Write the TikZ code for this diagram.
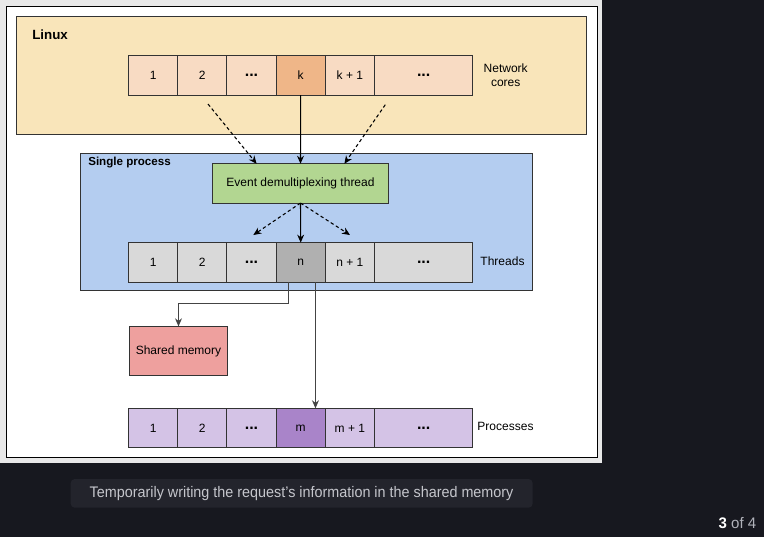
\documentclass[tikz,border=0pt]{standalone}
\usepackage{fontspec}
\setmainfont{Liberation Sans}
\usetikzlibrary{positioning,arrows.meta,calc}

\definecolor{pagebg}{HTML}{17181F}
\definecolor{framegray}{HTML}{E8E8E8}
\definecolor{captionbg}{HTML}{23242C}
\definecolor{captiontext}{HTML}{C5C6CC}
\definecolor{countertext}{HTML}{B0B2BA}
\definecolor{cellline}{HTML}{333333}
\definecolor{linuxbg}{HTML}{F9E5BA}
\definecolor{netcell}{HTML}{F8DBC3}
\definecolor{netsel}{HTML}{EFB688}
\definecolor{processbg}{HTML}{B4CDF0}
\definecolor{eventbg}{HTML}{B2D691}
\definecolor{thrcell}{HTML}{D9D9D9}
\definecolor{thrsel}{HTML}{B0B0B0}
\definecolor{sharedbg}{HTML}{EEA09E}
\definecolor{proccell}{HTML}{D4C3E6}
\definecolor{procsel}{HTML}{A984C9}
\definecolor{elbowline}{HTML}{444444}

\begin{document}
\begin{tikzpicture}[x=0.75pt,y=-0.75pt,font=\fontsize{9}{11}\selectfont,
    cell/.style={draw=cellline,line width=0.75pt,minimum width=36.9pt,minimum height=29.55pt,inner sep=0pt,outer sep=0pt},
    widecell/.style={cell,minimum width=73.8pt},
    box/.style={draw=cellline,line width=0.75pt},
    link/.style={line width=0.8pt,-{Stealth[length=6pt,width=5.2pt]}},
    hint/.style={link,dash pattern=on 2.5pt off 2pt},
    dots/.style={font=\fontsize{12}{12}\selectfont\bfseries}]

    \fill[pagebg] (0,0) rectangle (764,537);
    \useasboundingbox (0,0) rectangle (764,537);

    % frame of the slide
    \fill[framegray] (0,0) rectangle (602,463);
    \draw[fill=white,line width=0.75pt] (6,6) rectangle (597,457);

    % Linux
    \draw[box,fill=linuxbg] (16,16) rectangle (586.7,134.3);
    \node[anchor=west,inner sep=0pt,font=\fontsize{10}{12}\selectfont\bfseries] (linuxlabel) at (32,35) {Linux};

    \node[cell,fill=netcell] (net1) at (153.1,75.3) {1};
    \node[cell,fill=netcell,right=0pt of net1] (net2) {2};
    \node[cell,fill=netcell,right=0pt of net2,dots] (netdots) {...};
    \node[cell,fill=netsel,right=0pt of netdots] (netk) {k};
    \node[cell,fill=netcell,right=0pt of netk] (netk1) {k + 1};
    \node[widecell,fill=netcell,right=0pt of netk1,dots] (netmore) {...};
    \node[align=center,font=\fontsize{9}{11}\selectfont] (netlabel) at (505.7,75.3) {Network\\cores};

    % Single process
    \draw[box,fill=processbg] (80,153.3) rectangle (532.5,290.8);
    \node[anchor=west,inner sep=0pt,font=\fontsize{8.7}{10}\selectfont\bfseries] (proclabelbox) at (88,162.5) {Single process};

    \node[box,fill=eventbg,minimum width=131.7pt,minimum height=29.5pt,inner sep=0pt,outer sep=0pt] (event) at (300.5,183.4) {Event demultiplexing thread};

    \node[cell,fill=thrcell] (thr1) at (153.1,262.3) {1};
    \node[cell,fill=thrcell,right=0pt of thr1] (thr2) {2};
    \node[cell,fill=thrcell,right=0pt of thr2,dots] (thrdots) {...};
    \node[cell,fill=thrsel,right=0pt of thrdots] (thrn) {n};
    \node[cell,fill=thrcell,right=0pt of thrn] (thrn1) {n + 1};
    \node[widecell,fill=thrcell,right=0pt of thrn1,dots] (thrmore) {...};
    \node (thrlabel) at (502.5,261.7) {Threads};

    % Shared memory
    \node[box,fill=sharedbg,minimum width=73.8pt,minimum height=37pt,inner sep=0pt,outer sep=0pt] (shared) at (178.5,351) {Shared memory};

    % Processes
    \node[cell,fill=proccell] (proc1) at (153.1,428) {1};
    \node[cell,fill=proccell,right=0pt of proc1] (proc2) {2};
    \node[cell,fill=proccell,right=0pt of proc2,dots] (procdots) {...};
    \node[cell,fill=procsel,right=0pt of procdots] (procm) {m};
    \node[cell,fill=proccell,right=0pt of procm] (procm1) {m + 1};
    \node[widecell,fill=proccell,right=0pt of procm1,dots] (procmore) {...};
    \node (proclabel) at (505.5,426.7) {Processes};

    % connectors
    \coordinate (netfromleft) at (208,104);
    \coordinate (netfromright) at (385.3,104.7);
    \coordinate (thrtoleft) at (253.3,235);
    \coordinate (thrtoright) at (350,235);

    \draw[hint] (netfromleft) -- ($(event.north west)!0.25!(event.north east)$);
    \draw[hint] (netfromright) -- ($(event.north west)!0.75!(event.north east)$);
    \draw[link] (netk.south) -- (event.north);

    \draw[hint] (event.south) -- (thrtoleft);
    \draw[hint] (event.south) -- (thrtoright);
    \draw[link] (event.south) -- (thrn.north);

    \draw[link,elbowline] ($(thrn.south west)!0.25!(thrn.south east)$) -- ++(0,21.7) -| (shared.north);
    \draw[link,elbowline] ($(thrn.south west)!0.8!(thrn.south east)$) coordinate (down) -- (down |- procm.north);

    % caption and counter
    \fill[captionbg,rounded corners=3pt] (70.7,479) rectangle (532.6,507.7);
    \node[text=captiontext,font=\fontsize{11.5}{13}\selectfont] (caption) at (301.6,493.3) {\scalebox{0.937}[1]{Temporarily writing the request's information in the shared memory}};
    \node[text=countertext,font=\fontsize{11.5}{13}\selectfont] (counter) at (737.5,523) {\scalebox{0.98}[1]{\textcolor{white}{\bfseries 3} of 4}};
\end{tikzpicture}
\end{document}
